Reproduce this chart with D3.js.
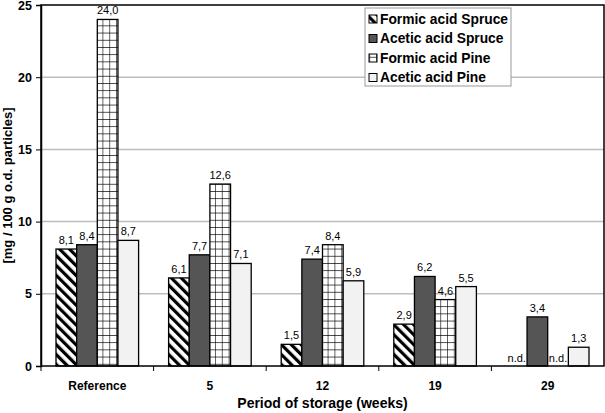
<!DOCTYPE html>
<html>
<head>
<meta charset="utf-8">
<script src="https://cdn.jsdelivr.net/npm/d3@7"></script>
<style>
  body { margin: 0; background: #fff; }
  svg { display: block; font-family: "Liberation Sans", Arial, sans-serif; }
</style>
</head>
<body>
<div id="chart"></div>
<script>
const periods = ['Reference', '5', '12', '19', '29']
const seriesNames = ['Formic acid Spruce', 'Acetic acid Spruce', 'Formic acid Pine', 'Acetic acid Pine']
const formicSpruce = [8.1, 6.1, 1.5, 2.9, null]
const aceticSpruce = [8.4, 7.7, 7.4, 6.2, 3.4]
const formicPine = [24.0, 12.6, 8.4, 4.6, null]
const aceticPine = [8.7, 7.1, 5.9, 5.5, 1.3]
const yTicks = [0, 5, 10, 15, 20, 25]

const seriesValues = [formicSpruce, aceticSpruce, formicPine, aceticPine]

const width = 605
const height = 413
const margin = { top: 5, right: 1, bottom: 47, left: 41 }
const innerW = width - margin.left - margin.right
const innerH = height - margin.top - margin.bottom

const fills = ['url(#diag)', '#555555', 'url(#grid)', '#f2f2f2']
const fmt = v => d3.format('.1f')(v).replace('.', ',')

const svg = d3.select('#chart').append('svg')
  .attr('width', width)
  .attr('height', height)

// patterns
const defs = svg.append('defs')
const diag = defs.append('pattern')
  .attr('id', 'diag')
  .attr('patternUnits', 'userSpaceOnUse')
  .attr('width', 7)
  .attr('height', 7)
  .attr('patternTransform', 'rotate(-45)')
diag.append('rect').attr('width', 7).attr('height', 7).attr('fill', '#fff')
diag.append('rect').attr('width', 3.2).attr('height', 7).attr('fill', '#000')

const grid = defs.append('pattern')
  .attr('id', 'grid')
  .attr('patternUnits', 'userSpaceOnUse')
  .attr('width', 6.8)
  .attr('height', 7.2)
  .attr('x', margin.left)
  .attr('y', margin.top + innerH)
grid.append('rect').attr('width', 6.8).attr('height', 7.2).attr('fill', '#fff')
grid.append('path')
  .attr('d', 'M0,0H6.8M0,0V7.2')
  .attr('stroke', '#000')
  .attr('stroke-width', 1.2)
  .attr('fill', 'none')

const g = svg.append('g')
  .attr('transform', 'translate(' + margin.left + ',' + margin.top + ')')

const x0 = d3.scaleBand().domain(periods).range([0, innerW])
const x1 = d3.scaleBand()
  .domain(d3.range(seriesNames.length))
  .range([15, x0.bandwidth() - 15])
const y = d3.scaleLinear().domain([0, 25]).range([innerH, 0])

// gridlines
g.append('g')
  .selectAll('line')
  .data(yTicks.filter(d => d > 0 && d < 25))
  .join('line')
  .attr('x1', 0)
  .attr('x2', innerW)
  .attr('y1', d => y(d))
  .attr('y2', d => y(d))
  .attr('stroke', '#bdbdbd')
  .attr('stroke-width', 1.5)

// bars
const groups = g.append('g')
  .selectAll('g')
  .data(periods)
  .join('g')
  .attr('transform', d => 'translate(' + x0(d) + ',0)')

groups.selectAll('rect')
  .data((p, i) => seriesValues.map((s, k) => ({ k, v: s[i] })).filter(d => d.v != null))
  .join('rect')
  .attr('x', d => x1(d.k))
  .attr('width', x1.bandwidth())
  .attr('y', d => y(d.v))
  .attr('height', d => innerH - y(d.v))
  .attr('fill', d => fills[d.k])
  .attr('stroke', '#000')
  .attr('stroke-width', 1.3)

groups.selectAll('text')
  .data((p, i) => seriesValues.map((s, k) => ({ k, v: s[i] })))
  .join('text')
  .attr('x', d => x1(d.k) + x1.bandwidth() / 2)
  .attr('y', d => d.v == null ? innerH - 4 : y(d.v) - 5)
  .attr('text-anchor', 'middle')
  .attr('font-size', 11)
  .attr('fill', '#000')
  .text(d => d.v == null ? 'n.d.' : fmt(d.v))

// frame
g.append('rect')
  .attr('width', innerW)
  .attr('height', innerH)
  .attr('fill', 'none')
  .attr('stroke', '#000')
  .attr('stroke-width', 1.5)

// y axis
const yAxis = g.append('g')
  .call(d3.axisLeft(y).tickValues(yTicks).tickSize(5).tickPadding(4))
yAxis.select('.domain').attr('stroke-width', 1.5)
yAxis.selectAll('text')
  .attr('font-size', 12.5)
  .attr('font-weight', 'bold')
  .attr('font-family', '"Liberation Sans", Arial, sans-serif')
  .attr('fill', '#000')

// x axis
const xAxis = g.append('g')
  .attr('transform', 'translate(0,' + innerH + ')')
  .call(d3.axisBottom(x0).tickSize(0).tickPadding(15))
xAxis.select('.domain').remove()
xAxis.selectAll('text')
  .attr('font-size', 12)
  .attr('font-weight', 'bold')
  .attr('font-family', '"Liberation Sans", Arial, sans-serif')
  .attr('fill', '#000')

g.append('g')
  .selectAll('line')
  .data(periods)
  .join('line')
  .attr('x1', d => x0(d))
  .attr('x2', d => x0(d))
  .attr('y1', innerH)
  .attr('y2', innerH + 5)
  .attr('stroke', '#000')

// axis titles
svg.append('text')
  .attr('transform', 'translate(12,' + (margin.top + innerH / 2) + ') rotate(-90)')
  .attr('text-anchor', 'middle')
  .attr('font-size', 13)
  .attr('font-weight', 'bold')
  .text('[mg / 100 g o.d. particles]')

svg.append('text')
  .attr('x', margin.left + innerW / 2)
  .attr('y', 408)
  .attr('text-anchor', 'middle')
  .attr('font-size', 14)
  .attr('font-weight', 'bold')
  .text('Period of storage (weeks)')

// legend
const legend = svg.append('g').attr('transform', 'translate(365,8)')
legend.append('rect')
  .attr('width', 146)
  .attr('height', 78)
  .attr('fill', '#fff')
  .attr('stroke', '#999')

const items = legend.selectAll('g.item')
  .data(seriesNames)
  .join('g')
  .attr('class', 'item')
  .attr('transform', (d, i) => 'translate(4,' + (11 + i * 19.5) + ')')

items.append('rect')
  .attr('x', 0)
  .attr('y', -4)
  .attr('width', 8)
  .attr('height', 8)
  .attr('fill', (d, i) => fills[i])
  .attr('stroke', '#000')
  .attr('stroke-width', 1)

items.append('text')
  .attr('x', 11)
  .attr('y', 0)
  .attr('dy', '0.35em')
  .attr('font-size', 13.8)
  .attr('font-weight', 'bold')
  .text(d => d)
</script>
</body>
</html>
